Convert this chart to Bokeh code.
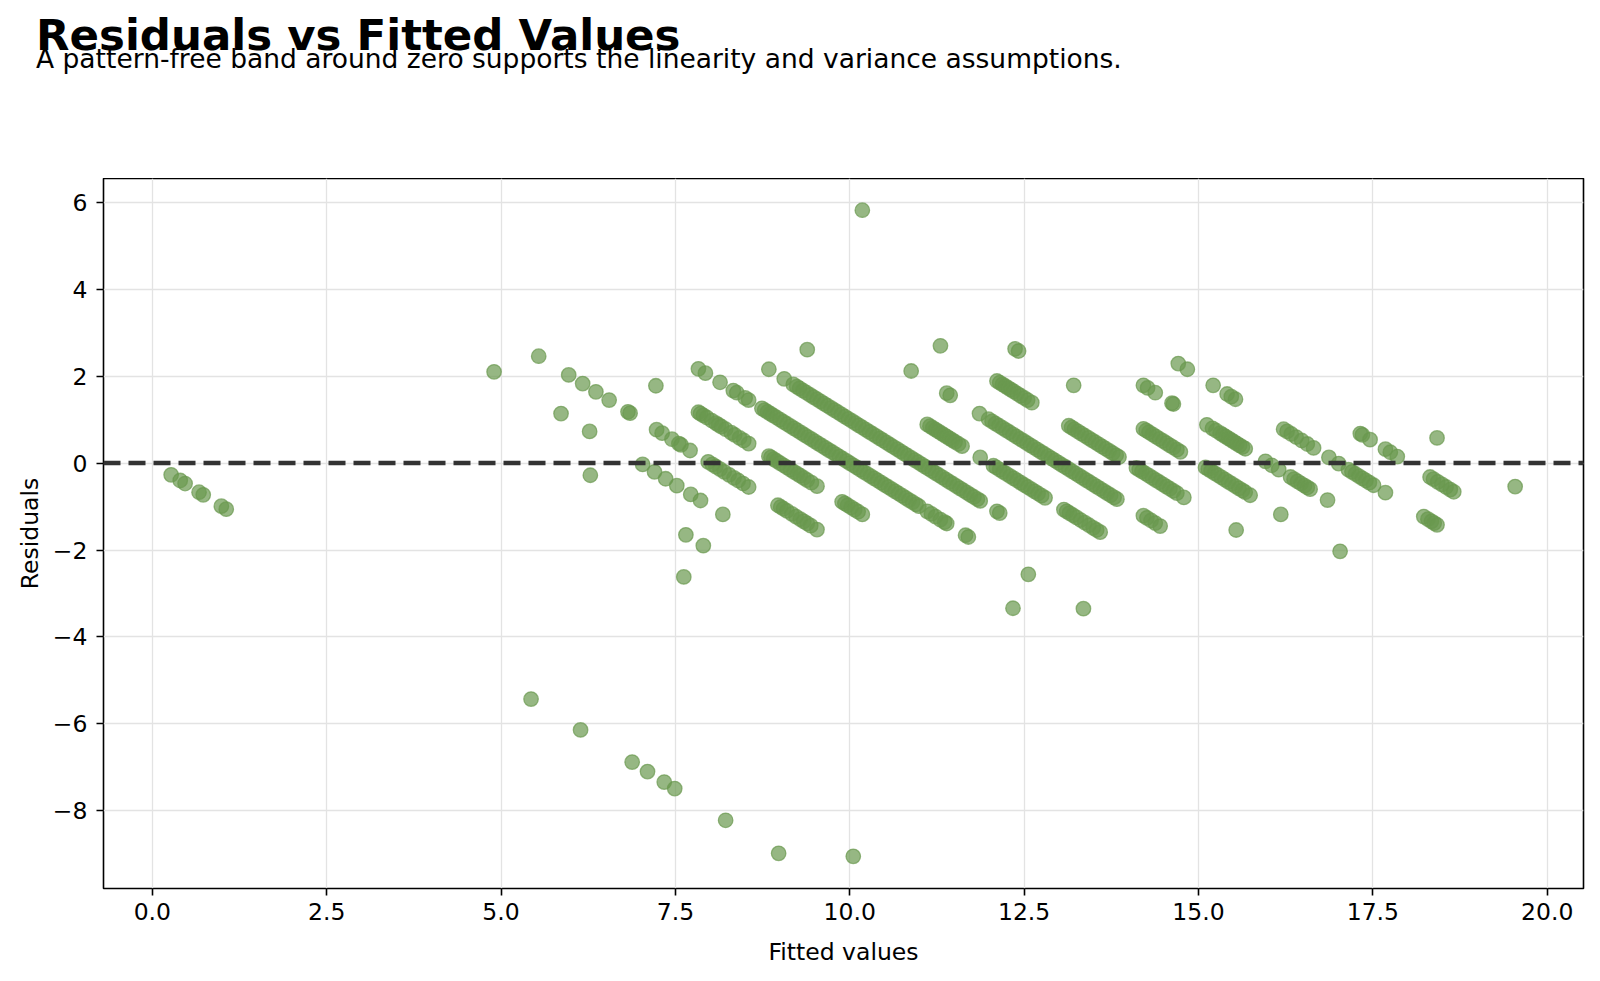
from bokeh.plotting import figure
from bokeh.layouts import column
from bokeh.models import (Range1d, Span, Div, FixedTicker, PrintfTickFormatter,
                          CustomJSTickFormatter, ColumnDataSource)
from bokeh.embed import file_html
from bokeh.resources import INLINE

# Fitted values of the model, grouped by the observed count of each row.
fitted_y0 = [0.27, 0.40, 0.47, 0.67, 0.73, 0.99, 1.06, 5.43, 6.14, 6.88, 7.10,
             7.34, 7.49, 8.22, 8.98]
fitted_y1 = [10.05]
fitted_y5 = [7.62]
fitted_y6 = [6.28, 7.65, 7.90]
fitted_y7 = [4.90, 5.86, 6.27, 7.03, 7.20, 7.36, 7.52, 7.72, 7.86, 8.18]
fitted_y8 = [5.54, 5.97, 6.17, 6.36, 6.55, 6.82, 6.85, 7.23, 7.31, 7.45, 7.55,
             7.58, 7.71,
             7.97, 8.03, 8.08, 8.14, 8.20, 8.27, 8.34, 8.40, 8.47, 8.55,
             8.97, 9.01, 9.05, 9.10, 9.17, 9.23, 9.29, 9.34, 9.39, 9.44, 9.53]
fitted_y9 = [7.22,
             7.83, 7.86, 7.90, 7.95, 8.02, 8.08, 8.12, 8.16, 8.22, 8.30, 8.35,
             8.42, 8.48, 8.55,
             8.84, 8.87, 8.91, 8.95, 9.00, 9.05, 9.10, 9.15, 9.20, 9.25, 9.29,
             9.34, 9.39, 9.45, 9.53,
             9.89, 9.93, 9.97, 10.02, 10.07, 10.12, 10.18,
             12.34]
fitted_y10 = [7.83, 7.93, 8.14, 8.33, 8.38, 8.50, 8.55,
              8.74, 8.78, 8.82, 8.86, 8.90, 8.95, 9.00, 9.05, 9.10, 9.15, 9.20,
              9.25, 9.30, 9.35, 9.40, 9.45, 9.50, 9.55, 9.60, 9.65, 9.70, 9.75,
              9.80, 9.85, 9.90, 9.95, 10.00, 10.05, 10.10, 10.15, 10.20, 10.25,
              10.30, 10.35, 10.40, 10.45, 10.50, 10.55, 10.60, 10.65, 10.70,
              10.75, 10.80, 10.85, 10.90, 10.95, 10.99,
              11.11, 11.17, 11.23, 11.30, 11.36, 11.39,
              11.66, 11.70,
              12.56, 13.35]
fitted_y11 = [8.84, 9.06,
              9.19, 9.24, 9.28, 9.33, 9.38, 9.43, 9.48, 9.53, 9.58, 9.63, 9.68,
              9.73, 9.78, 9.83, 9.88, 9.93, 9.98, 10.03, 10.08, 10.13, 10.18,
              10.23, 10.28, 10.33, 10.38, 10.43, 10.48, 10.53, 10.58, 10.63,
              10.68, 10.73, 10.78, 10.83, 10.88, 10.93, 10.98, 11.03, 11.08,
              11.13, 11.18, 11.23, 11.28, 11.33, 11.38, 11.43, 11.48, 11.53,
              11.58, 11.63, 11.68, 11.73, 11.78, 11.83, 11.87,
              12.11, 12.15]
fitted_y12 = [9.39,
              11.11, 11.15, 11.19, 11.23, 11.27, 11.31, 11.35, 11.39, 11.43,
              11.47, 11.51, 11.56, 11.61,
              11.87,
              12.06, 12.10, 12.15, 12.20, 12.25, 12.30, 12.35, 12.40, 12.45,
              12.50, 12.55, 12.60, 12.65, 12.70, 12.75, 12.80,
              13.07, 13.11, 13.15, 13.20, 13.25, 13.31, 13.37, 13.43, 13.49,
              13.54, 13.59]
fitted_y13 = [10.88, 11.39, 11.44, 11.86,
              11.99, 12.04, 12.09, 12.14, 12.19, 12.24, 12.29, 12.34, 12.39,
              12.44, 12.49, 12.54, 12.59, 12.64, 12.69, 12.74, 12.79, 12.84,
              12.89, 12.94, 12.99, 13.04, 13.09, 13.14, 13.19, 13.24, 13.29,
              13.34, 13.39, 13.44, 13.49, 13.54, 13.59, 13.64, 13.69, 13.74,
              13.79, 13.83,
              14.21, 14.26, 14.32, 14.38, 14.45]
fitted_y14 = [11.30,
              12.11, 12.15, 12.19, 12.23, 12.27, 12.31, 12.35, 12.40, 12.45,
              12.50, 12.55, 12.61,
              13.14, 13.18, 13.22, 13.27, 13.32, 13.37, 13.42, 13.47, 13.52,
              13.57, 13.62, 13.67, 13.72, 13.77, 13.82, 13.86,
              14.11, 14.15, 14.19, 14.24, 14.29, 14.34, 14.39, 14.44, 14.49,
              14.54, 14.59, 14.64, 14.69, 14.79,
              15.54]
fitted_y15 = [12.37, 12.42, 13.21,
              14.21, 14.25, 14.29, 14.34, 14.39, 14.44, 14.49, 14.54, 14.59,
              14.64, 14.69, 14.74,
              15.10, 15.14, 15.18, 15.23, 15.28, 15.33, 15.38, 15.43, 15.48,
              15.53, 15.58, 15.63, 15.67, 15.74,
              16.18, 17.03]
fitted_y16 = [10.18, 14.21, 14.27, 14.38, 14.62, 14.64,
              15.12, 15.20, 15.25, 15.31, 15.35, 15.39, 15.43, 15.47, 15.51,
              15.55, 15.59, 15.63, 15.67,
              15.96, 16.05, 16.15,
              16.32, 16.37, 16.42, 16.47, 16.52, 16.56, 16.60,
              16.85]
fitted_y17 = [14.71, 14.84, 15.21, 15.41, 15.47, 15.53,
              16.22, 16.27, 16.33, 16.40, 16.48, 16.56, 16.65,
              16.87, 17.01,
              17.15, 17.20, 17.25, 17.30, 17.35, 17.40, 17.45, 17.51,
              17.68,
              18.23, 18.29, 18.34, 18.38, 18.42]
fitted_y18 = [17.32, 17.35, 17.46, 17.68, 17.75, 17.85,
              18.32, 18.37, 18.43, 18.49, 18.55, 18.61, 18.66]
fitted_y19 = [18.42, 19.54]

observed_levels = [0, 1, 5, 6, 7, 8, 9, 10, 11, 12, 13, 14, 15, 16, 17, 18, 19]
fitted_groups = [fitted_y0, fitted_y1, fitted_y5, fitted_y6, fitted_y7,
                 fitted_y8, fitted_y9, fitted_y10, fitted_y11, fitted_y12,
                 fitted_y13, fitted_y14, fitted_y15, fitted_y16, fitted_y17,
                 fitted_y18, fitted_y19]

x_ticks = [0.0, 2.5, 5.0, 7.5, 10.0, 12.5, 15.0, 17.5, 20.0]
y_ticks = [-8, -6, -4, -2, 0, 2, 4, 6]

title_text = "Residuals vs Fitted Values"
subtitle_text = ("A pattern-free band around zero supports the linearity "
                 "and variance assumptions.")
x_label = "Fitted values"
y_label = "Residuals"

# residual = observed - fitted
fitted, residual = [], []
for level, group in zip(observed_levels, fitted_groups):
    for f in group:
        fitted.append(f)
        residual.append(level - f)

source = ColumnDataSource(data=dict(fitted=fitted, residual=residual))

FONT = "DejaVu Sans"
W, H = 1600, 981
HEADER = 178
LEFT, RIGHT, BOTTOM = 103, 17, 93

# heading block above the plot
header = Div(
    width=W, height=HEADER, margin=0,
    text=(
        f'<div style="position:relative;width:{W}px;height:{HEADER}px;'
        f'font-family:\'{FONT}\';color:black;">'
        f'<div style="position:absolute;left:36px;top:14px;'
        f'font-size:43.5px;font-weight:bold;line-height:1;'
        f'white-space:nowrap;">{title_text}</div>'
        f'<div style="position:absolute;left:36px;top:45.5px;'
        f'font-size:26.5px;font-weight:normal;line-height:1;'
        f'white-space:nowrap;">{subtitle_text}</div>'
        f'</div>'
    ),
)

p = figure(width=W, height=H - HEADER, title=None,
           x_range=Range1d(-0.70, 20.52), y_range=Range1d(-9.79, 6.55),
           output_backend="svg", toolbar_location=None,
           min_border_left=LEFT, min_border_right=RIGHT,
           min_border_top=0, min_border_bottom=BOTTOM, margin=0)

p.background_fill_color = "white"
p.border_fill_color = "white"
p.outline_line_color = "black"
p.outline_line_width = 1.6

# grid
p.grid.grid_line_color = "#e3e3e3"
p.grid.grid_line_width = 1.3
p.xgrid.ticker = FixedTicker(ticks=x_ticks)
p.ygrid.ticker = FixedTicker(ticks=y_ticks)

# axes
for ax in (p.xaxis[0], p.yaxis[0]):
    ax.axis_line_color = None
    ax.major_tick_line_color = "black"
    ax.major_tick_line_width = 1.6
    ax.major_tick_out = 7
    ax.major_tick_in = 0
    ax.minor_tick_line_color = None
    ax.major_label_text_font = FONT
    ax.major_label_text_font_size = "23.5px"
    ax.major_label_text_color = "black"
    ax.axis_label_text_font = FONT
    ax.axis_label_text_font_size = "23.5px"
    ax.axis_label_text_font_style = "normal"
    ax.axis_label_text_color = "black"

p.xaxis.ticker = FixedTicker(ticks=x_ticks)
p.xaxis.formatter = PrintfTickFormatter(format="%.1f")
p.xaxis.axis_label = x_label
p.xaxis.major_label_standoff = 7
p.xaxis.axis_label_standoff = 15

p.yaxis.ticker = FixedTicker(ticks=y_ticks)
p.yaxis.formatter = CustomJSTickFormatter(
    code="return tick < 0 ? '\u2212' + Math.abs(tick) : String(tick);")
p.yaxis.axis_label = y_label
p.yaxis.major_label_standoff = 9
p.yaxis.axis_label_standoff = 6

# residual points
p.scatter("fitted", "residual", source=source, size=14.5,
          fill_color="#6a994e", fill_alpha=0.7,
          line_color="#6a994e", line_alpha=0.7, line_width=1.3)

# zero reference line
p.add_layout(Span(location=0, dimension="width", line_color="#333333",
                  line_width=4.5, line_dash="17 8"))

layout = column(header, p, spacing=0, margin=0)

open("out.html", "w").write(file_html(layout, INLINE))
